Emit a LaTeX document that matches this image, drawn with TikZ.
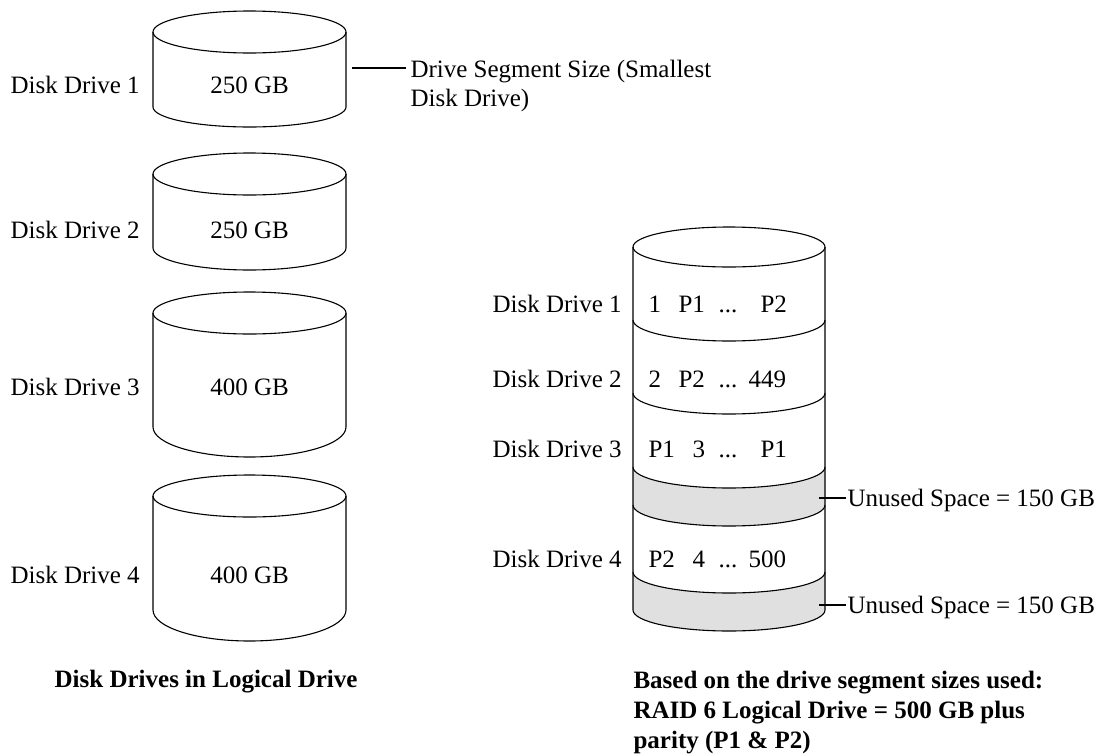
\documentclass[tikz,border=0pt]{standalone}
\usepackage{fontspec}
\setmainfont{Liberation Serif}
\begin{document}
\begin{tikzpicture}[x=1pt,y=-1pt,line width=1.1pt,
  txt/.style={font=\fontsize{25}{30}\selectfont,inner sep=0pt},
  btxt/.style={font=\bfseries\fontsize{25}{30}\selectfont,inner sep=0pt,align=left},
  unused/.style={fill=black!12,draw=none}]
\useasboundingbox (0,0) rectangle (1105,753);

% ---------- left: individual disk drives ----------
\foreach \t/\b/\r/\bl/\n/\s in {32/107/20pt/93/1/250, 174/248/22pt/238/2/250, 313/427/30pt/395/3/400, 496/610/31pt/583/4/400} {
  \draw (153,\t) -- (153,\b) arc[start angle=180,end angle=360,x radius=96.5pt,y radius=\r] -- (346,\t);
  \draw (249.5,\t) ellipse[x radius=96.5pt,y radius=21pt];
  \node[txt,anchor=base] (cap\n) at (249.5,\bl) {\s\ GB};
  \node[txt,anchor=base west] (ld\n) at (10,\bl) {Disk Drive \n};
}

% drive segment size label
\coordinate (segA) at (352,68);
\node[txt,anchor=base west] (seg1) at (410,77) {Drive Segment Size (Smallest};
\node[txt,anchor=base west] (seg2) at (410,106) {Disk Drive)};
\draw (segA) -- ([xshift=-4pt]segA -| seg1.west);

\node[btxt,anchor=base east] (capL) at (358,687) {Disk Drives in Logical Drive};

% ---------- right: RAID 6 logical drive ----------
\fill[unused] (633,467) arc[start angle=180,end angle=360,x radius=96pt,y radius=21pt]
  -- (825,505) arc[start angle=0,end angle=-180,x radius=96pt,y radius=21pt] -- cycle;
\fill[unused] (633,572) arc[start angle=180,end angle=360,x radius=96pt,y radius=21pt]
  -- (825,610) arc[start angle=0,end angle=-180,x radius=96pt,y radius=21pt] -- cycle;
\draw (729,247) ellipse[x radius=96pt,y radius=20pt];
\draw (633,247) -- (633,610) arc[start angle=180,end angle=360,x radius=96pt,y radius=21pt] -- (825,247);
\foreach \y in {320,393,467,505,572}
  \draw (633,\y) arc[start angle=180,end angle=360,x radius=96pt,y radius=21pt];

\foreach \bl/\n in {312/1,387/2,457/3,567/4}
  \node[txt,anchor=base west] (rd\n) at (492,\bl) {Disk Drive \n};

\node[txt,anchor=base west] (row1) at (648,312) {\makebox[30pt][l]{1}\makebox[40pt][l]{P1}\makebox[42pt][l]{...}P2};
\node[txt,anchor=base west] (row2) at (648,387) {\makebox[30pt][l]{2}\makebox[40pt][l]{P2}\makebox[30pt][l]{...}449};
\node[txt,anchor=base west] (row3) at (648,457) {\makebox[44pt][l]{P1}\makebox[26pt][l]{3}\makebox[42pt][l]{...}P1};
\node[txt,anchor=base west] (row4) at (648,567) {\makebox[44pt][l]{P2}\makebox[26pt][l]{4}\makebox[30pt][l]{...}500};

\coordinate (u1) at (819,498);
\coordinate (u2) at (819,605);
\node[txt,anchor=base west] (un1) at (847,506) {Unused Space = 150 GB};
\node[txt,anchor=base west] (un2) at (847,613) {Unused Space = 150 GB};
\draw (u1) -- ([xshift=-1pt]u1 -| un1.west);
\draw (u2) -- ([xshift=-1pt]u2 -| un2.west);

\node[btxt,anchor=north west] (capR) at (633,671) {Based on the drive segment sizes used:\\RAID 6 Logical Drive = 500 GB plus\\parity (P1 \& P2)};
\end{tikzpicture}
\end{document}
